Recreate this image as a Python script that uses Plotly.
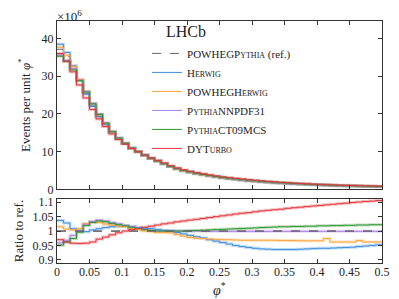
import plotly.graph_objects as go

# ---------------- data ----------------
bin_edges = [round(0.01 * i, 2) for i in range(51)]

# Reference (POWHEGPythia) events per unit phi*, in units of 10^6
ref_values = [37.1, 35.3, 32.5, 28.9, 25.3, 22.0, 19.2, 17.0, 14.9, 13.3,
              12.0, 10.8, 9.9, 9.0, 8.2, 7.5, 6.8, 6.1, 5.5, 5.0,
              4.6, 4.25, 3.95, 3.65, 3.4, 3.15, 2.95, 2.75, 2.57, 2.4,
              2.25, 2.1, 1.97, 1.85, 1.73, 1.63, 1.53, 1.44, 1.36, 1.29,
              1.22, 1.15, 1.09, 1.03, 0.98, 0.93, 0.89, 0.85, 0.81, 0.78]

ratio_herwig = [1.037, 1.028, 1.008, 1.000, 0.998, 1.004, 1.008, 1.012, 1.015, 1.016,
                1.016, 1.015, 1.012, 1.010, 1.008, 1.005, 1.002, 1.000, 0.995, 0.990,
                0.985, 0.980, 0.976, 0.970, 0.965, 0.960, 0.955, 0.950, 0.946, 0.943,
                0.940, 0.938, 0.937, 0.936, 0.936, 0.936, 0.936, 0.937, 0.938, 0.939,
                0.940, 0.940, 0.941, 0.942, 0.943, 0.944, 0.946, 0.948, 0.950, 0.952]

ratio_powheg_herwig = [1.015, 1.007, 1.004, 1.008, 1.026, 1.032, 1.030, 1.024, 1.020, 1.016,
                       1.016, 1.010, 1.005, 1.000, 0.998, 0.995, 0.995, 0.994, 0.988, 0.982,
                       0.978, 0.975, 0.974, 0.972, 0.971, 0.970, 0.970, 0.969, 0.968, 0.968,
                       0.968, 0.968, 0.968, 0.968, 0.967, 0.967, 0.967, 0.966, 0.966, 0.966,
                       0.966, 0.974, 0.962, 0.962, 0.962, 0.962, 0.967, 0.962, 0.962, 0.962]

ratio_nnpdf31 = [0.959, 0.968, 0.985, 1.002, 1.024, 1.033, 1.038, 1.035, 1.030, 1.025,
                 1.020, 1.015, 1.010, 1.006, 1.003, 1.001, 1.000, 1.000, 1.000, 1.000,
                 1.000, 1.000, 0.999, 0.999, 0.999, 0.999, 0.999, 0.999, 0.999, 0.999,
                 0.999, 0.999, 0.999, 0.999, 0.999, 0.999, 0.999, 0.999, 0.999, 0.999,
                 0.999, 0.999, 0.999, 0.999, 0.999, 0.999, 0.999, 0.999, 0.999, 0.999]

ratio_ct09mcs = [0.951, 0.962, 0.974, 0.996, 1.019, 1.030, 1.035, 1.032, 1.026, 1.022,
                 1.018, 1.013, 1.009, 1.005, 1.002, 1.000, 1.000, 1.000, 1.000, 1.000,
                 1.001, 1.002, 1.003, 1.004, 1.005, 1.006, 1.007, 1.008, 1.009, 1.010,
                 1.011, 1.012, 1.013, 1.014, 1.015, 1.015, 1.016, 1.016, 1.017, 1.017,
                 1.018, 1.018, 1.019, 1.019, 1.020, 1.020, 1.021, 1.021, 1.022, 1.022]

ratio_dyturbo = [0.970, 0.962, 0.958, 0.957, 0.958, 0.962, 0.972, 0.979, 0.987, 0.994,
                 1.000, 1.005, 1.009, 1.013, 1.017, 1.021, 1.025, 1.028, 1.032, 1.035,
                 1.038, 1.041, 1.044, 1.047, 1.050, 1.053, 1.056, 1.059, 1.062, 1.064,
                 1.067, 1.070, 1.072, 1.074, 1.076, 1.079, 1.081, 1.083, 1.085, 1.087,
                 1.089, 1.091, 1.093, 1.095, 1.097, 1.099, 1.101, 1.103, 1.104, 1.106]

ratio_ref = [1.0] * 50

x_ticks = [0, 0.05, 0.1, 0.15, 0.2, 0.25, 0.3, 0.35, 0.4, 0.45, 0.5]
x_tick_labels = ["0", "0.05", "0.1", "0.15", "0.2", "0.25", "0.3", "0.35", "0.4", "0.45", "0.5"]
y_ticks = [0, 10, 20, 30, 40]
ratio_ticks = [0.9, 0.95, 1, 1.05, 1.1]
ratio_tick_labels = ["0.9", "0.95", "1", "1.05", "1.1"]

SC = "<span style='font-size:8px'>"
series = [
    ("POWHEGP" + SC + "YTHIA</span> (ref.)", ratio_ref, "#666666", "dash"),
    ("H" + SC + "ERWIG</span>", ratio_herwig, "#3d8ee0", "solid"),
    ("POWHEGH" + SC + "ERWIG</span>", ratio_powheg_herwig, "#ffa43a", "solid"),
    ("P" + SC + "YTHIA</span>NNPDF31", ratio_nnpdf31, "#a97fe6", "solid"),
    ("P" + SC + "YTHIA</span>CT09MCS", ratio_ct09mcs, "#2f962f", "solid"),
    ("DYT" + SC + "URBO</span>", ratio_dyturbo, "#e3343a", "solid"),
]


def hexrgba(h, a):
    h = h.lstrip("#")
    return "rgba(%d,%d,%d,%.2f)" % (int(h[0:2], 16), int(h[2:4], 16), int(h[4:6], 16), a)


def steps(v):
    return list(v) + [v[-1]]


fig = go.Figure()

# pale uncertainty-style bands first
for name, ratio, col, dash in series:
    main_vals = [r * v for r, v in zip(ratio, ref_values)]
    if dash == "solid":
        for vals, xa, ya in ((main_vals, "x", "y"), (ratio, "x2", "y2")):
            fig.add_trace(go.Scatter(x=bin_edges, y=steps(vals), mode="lines",
                                     line=dict(shape="hv", width=3, color=hexrgba(col, 0.3)),
                                     xaxis=xa, yaxis=ya, showlegend=False, hoverinfo="skip"))

for name, ratio, col, dash in series:
    main_vals = [r * v for r, v in zip(ratio, ref_values)]
    fig.add_trace(go.Scatter(x=bin_edges, y=steps(main_vals), mode="lines", name=name,
                             line=dict(shape="hv", width=1, color=col, dash=dash),
                             xaxis="x", yaxis="y", showlegend=True))
    fig.add_trace(go.Scatter(x=bin_edges, y=steps(ratio), mode="lines", name=name,
                             line=dict(shape="hv", width=1, color=col, dash=dash),
                             xaxis="x2", yaxis="y2", showlegend=False))

# reference dashed line kept on top in the ratio panel
fig.add_trace(go.Scatter(x=bin_edges, y=steps(ratio_ref), mode="lines",
                         line=dict(shape="hv", width=1.2, color="#666666", dash="dash"),
                         xaxis="x2", yaxis="y2", showlegend=False, hoverinfo="skip"))

FONT = "Liberation Serif"
TXT = "#222222"
axis_common = dict(showline=True, linecolor="#333333", linewidth=1, mirror="ticks",
                   ticks="inside", ticklen=4, tickcolor="#333333", showgrid=False,
                   zeroline=False, tickfont=dict(family=FONT, size=12, color=TXT))

# the page body adds an 8px offset, so the figure is 8px smaller than the window
fig.update_layout(
    width=391, height=291,
    margin=dict(l=46, r=13, t=9, b=36),
    paper_bgcolor="white", plot_bgcolor="white",
    font=dict(family=FONT, size=12, color=TXT),
    xaxis=dict(domain=[0, 1], range=[0, 0.5], tickvals=x_ticks, anchor="y",
               showticklabels=False, **axis_common),
    yaxis=dict(domain=[0.304, 1], range=[0, 44.6], tickvals=y_ticks, anchor="x",
               title=dict(text="Events per unit <i>φ</i><sup>*</sup>",
                          font=dict(family=FONT, size=13), standoff=8),
               **axis_common),
    xaxis2=dict(domain=[0, 1], range=[0, 0.5], tickvals=x_ticks, ticktext=x_tick_labels,
                anchor="y2", matches="x", ticklabelstandoff=-2, **axis_common),
    yaxis2=dict(domain=[0, 0.264], range=[0.889, 1.111], tickvals=ratio_ticks,
                ticktext=ratio_tick_labels, anchor="x2",
                title=dict(text="Ratio to ref.", font=dict(family=FONT, size=13), standoff=6),
                **axis_common),
    legend=dict(x=0.277, y=0.926, xanchor="left", yanchor="top", bgcolor="rgba(0,0,0,0)",
                font=dict(family=FONT, size=11, color=TXT), itemwidth=30,
                tracegroupgap=0),
    showlegend=True,
    annotations=[
        dict(text="LHCb", x=0.328, y=0.956, xref="paper", yref="paper", xanchor="left",
             yanchor="middle", showarrow=False, font=dict(family=FONT, size=16, color=TXT)),
        dict(text="×10<sup>6</sup>", x=-0.005, y=1.0, xref="paper", yref="paper", xanchor="left",
             yanchor="bottom", yshift=-5, showarrow=False, font=dict(family=FONT, size=13, color=TXT)),
        dict(text="<i>φ</i><sup>*</sup>", x=0.5, y=-0.106, xref="paper", yref="paper",
             xanchor="center", yanchor="middle", showarrow=False,
             font=dict(family=FONT, size=14, color=TXT)),
    ],
)

fig.write_html("out.html")
